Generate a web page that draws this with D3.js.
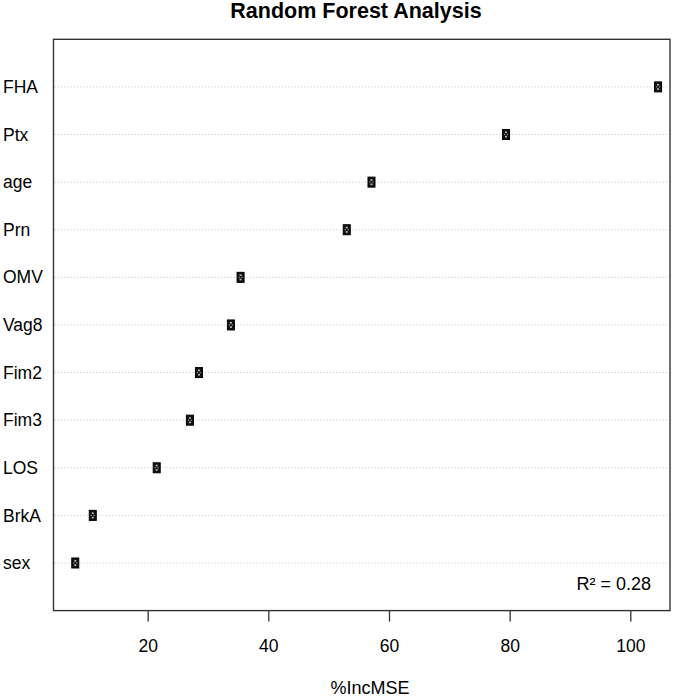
<!DOCTYPE html>
<html><head><meta charset="utf-8">
<script src="https://cdn.jsdelivr.net/npm/d3@7"></script>
<style>body{margin:0;background:#fff}svg{display:block}text{font-family:"Liberation Sans",Arial,sans-serif}</style>
</head><body><div id="chart"></div>
<script>
const categories = ["FHA","Ptx","age","Prn","OMV","Vag8","Fim2","Fim3","LOS","BrkA","sex"];
const values = [104.6, 79.4, 57.1, 53.0, 35.4, 33.8, 28.5, 27.0, 21.5, 10.9, 8.0];
const xTicks = [20, 40, 60, 80, 100];
const title = "Random Forest Analysis";
const xLabel = "%IncMSE";
const note = "R\u00b2 = 0.28";

const W = 685, H = 697;
const L = 53.5, R = 670, T = 39.3, B = 610.6;
const svg = d3.select("#chart").append("svg").attr("width", W).attr("height", H);

const x = d3.scaleLinear().domain([0, 102.3]).range([27, 644.2]);
const n = categories.length;
const y = d3.scaleLinear().domain([0, n + 1]).range([B, T]);
const yPos = (i) => y(n - i);

// grid dotted lines
svg.append("g").selectAll("line").data(categories).join("line")
  .attr("x1", L + 1).attr("x2", R - 1)
  .attr("y1", (d, i) => yPos(i)).attr("y2", (d, i) => yPos(i))
  .attr("stroke", "#c4c4c4").attr("stroke-width", 1)
  .attr("stroke-dasharray", "1,2.2");

// box
svg.append("rect").attr("x", L).attr("y", T).attr("width", R - L).attr("height", B - T)
  .attr("fill", "none").attr("stroke", "#333").attr("stroke-width", 1.4);

// markers
const mk = svg.append("g").selectAll("g").data(values).join("g")
  .attr("transform", (d, i) => `translate(${x(d)},${yPos(i)})`);
mk.append("rect").attr("x", -3.5).attr("y", -5).attr("width", 7).attr("height", 10)
  .attr("fill", "#111").attr("stroke", "#000").attr("stroke-width", 1);
mk.append("rect").attr("x", -1).attr("y", -3).attr("width", 2).attr("height", 1.6).attr("fill", "#bbb");
mk.append("rect").attr("x", -1).attr("y", 1.4).attr("width", 2).attr("height", 1.6).attr("fill", "#bbb");
mk.append("rect").attr("x", -2).attr("y", -0.6).attr("width", 1.2).attr("height", 1.2).attr("fill", "#999");
mk.append("rect").attr("x", 0.8).attr("y", -0.6).attr("width", 1.2).attr("height", 1.2).attr("fill", "#999");

// y labels
svg.append("g").selectAll("text").data(categories).join("text")
  .attr("x", 3).attr("y", (d, i) => yPos(i)).attr("dy", "0.35em")
  .attr("font-size", 17.5).attr("fill", "#000").text(d => d);

// x axis
const ax = svg.append("g").attr("transform", `translate(0,${B})`)
  .call(d3.axisBottom(x).tickValues(xTicks).tickSize(11).tickPadding(18).tickFormat(d3.format("d")));
ax.select(".domain").remove();
ax.selectAll(".tick line").attr("stroke", "#333").attr("stroke-width", 1.3);
ax.selectAll(".tick text").attr("font-size", 17.5).attr("fill", "#000")
  .attr("font-family", "'Liberation Sans',Arial,sans-serif");

// title
svg.append("text").attr("x", 356).attr("y", 18).attr("text-anchor", "middle")
  .attr("font-size", 21.5).attr("font-weight", "bold").text(title);
// x label
svg.append("text").attr("x", 370).attr("y", 694).attr("text-anchor", "middle")
  .attr("font-size", 18).text(xLabel);
// note
svg.append("text").attr("x", 651).attr("y", 584).attr("dy", "0.35em").attr("text-anchor", "end")
  .attr("font-size", 18).text(note);
</script></body></html>
